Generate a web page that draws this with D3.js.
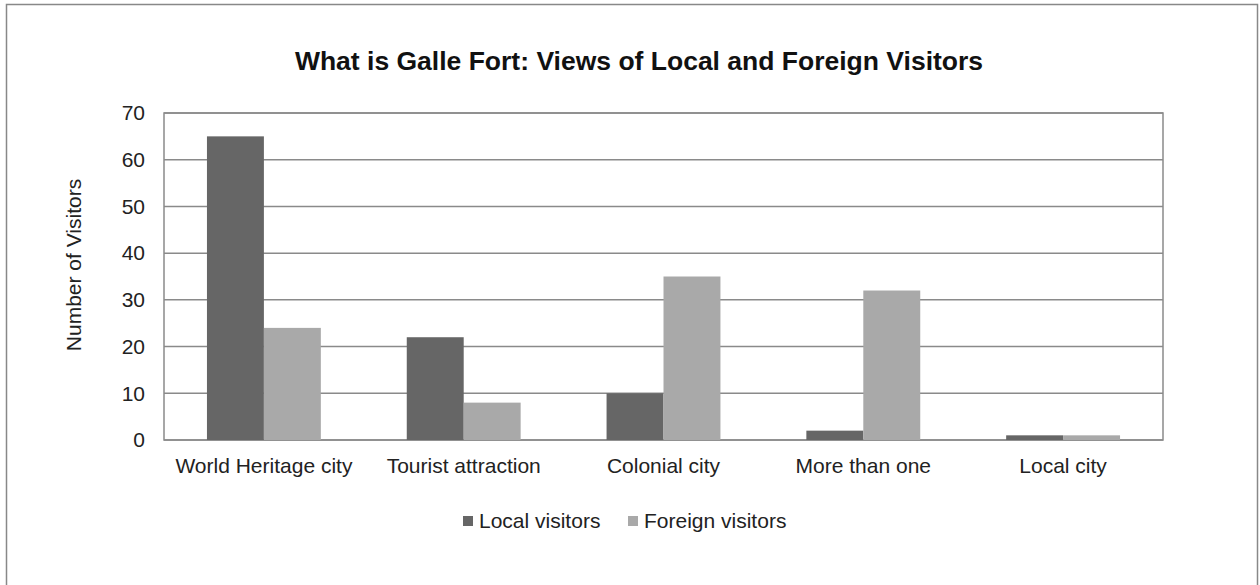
<!DOCTYPE html>
<html>
<head>
<meta charset="utf-8">
<script src="https://cdn.jsdelivr.net/npm/d3@7"></script>
<style>
  body { margin: 0; background: #fff; }
  svg { font-family: "Liberation Sans", Arial, sans-serif; }
</style>
</head>
<body>
<svg id="chart" width="1260" height="585"></svg>
<script>
// data
const categories = ['World Heritage city', 'Tourist attraction', 'Colonial city', 'More than one', 'Local city']
const seriesNames = ['Local visitors', 'Foreign visitors']
const localVisitors = [65, 22, 10, 2, 1]
const foreignVisitors = [24, 8, 35, 32, 1]
const yTicks = [0, 10, 20, 30, 40, 50, 60, 70]

const colors = ['#666666', '#a9a9a9']
const svg = d3.select('#chart')

// outer frame
svg.append('rect')
    .attr('x', 6.5).attr('y', 4.5)
    .attr('width', 1251).attr('height', 600)
    .attr('fill', '#fff').attr('stroke', '#888').attr('stroke-width', 1.5)

const plot = {left: 164, right: 1163, top: 113, bottom: 440}

const x = d3.scaleBand()
    .domain(categories)
    .range([plot.left, plot.right])
    .paddingInner(0.43)
    .paddingOuter(0.215)
const xSub = d3.scaleBand().domain(seriesNames).range([0, x.bandwidth()])
const y = d3.scaleLinear().domain([0, 70]).range([plot.bottom, plot.top])

// gridlines
svg.append('g')
    .selectAll('line')
    .data(yTicks)
    .join('line')
    .attr('x1', plot.left).attr('x2', plot.right)
    .attr('y1', d => y(d)).attr('y2', d => y(d))
    .attr('stroke', '#8a8a8a').attr('stroke-width', 1.5)

// plot area border
svg.append('rect')
    .attr('x', plot.left).attr('y', plot.top)
    .attr('width', plot.right - plot.left).attr('height', plot.bottom - plot.top)
    .attr('fill', 'none').attr('stroke', '#8a8a8a').attr('stroke-width', 1.5)

// bars
const rows = categories.map((c, i) => ({cat: c, vals: [localVisitors[i], foreignVisitors[i]]}))
const groups = svg.append('g')
    .selectAll('g')
    .data(rows)
    .join('g')
    .attr('transform', d => `translate(${x(d.cat)},0)`)
groups.selectAll('rect')
    .data(d => d.vals.map((v, j) => ({name: seriesNames[j], v: v, j: j})))
    .join('rect')
    .attr('x', d => xSub(d.name))
    .attr('y', d => y(d.v))
    .attr('width', xSub.bandwidth())
    .attr('height', d => y(0) - y(d.v))
    .attr('fill', d => colors[d.j])

const labelFont = '"Liberation Sans", Arial, sans-serif'

// y axis labels
const yAxis = d3.axisLeft(y).tickValues(yTicks).tickSize(0).tickPadding(19)
svg.append('g')
    .attr('transform', `translate(${plot.left},0)`)
    .call(yAxis)
    .call(g => g.select('.domain').remove())
    .selectAll('text')
    .attr('font-size', 21).attr('fill', '#222')
    .style('font-family', labelFont)

// x axis labels
const xAxis = d3.axisBottom(x).tickSize(0).tickPadding(18)
svg.append('g')
    .attr('transform', `translate(0,${plot.bottom})`)
    .call(xAxis)
    .call(g => g.select('.domain').remove())
    .selectAll('text')
    .attr('font-size', 21).attr('fill', '#222')
    .style('font-family', labelFont)

// title
svg.append('text')
    .attr('x', 639).attr('y', 70)
    .attr('text-anchor', 'middle')
    .attr('font-size', 26.5).attr('font-weight', 'bold').attr('fill', '#111')
    .text('What is Galle Fort: Views of Local and Foreign Visitors')

// y axis title
svg.append('text')
    .attr('transform', 'translate(81,265) rotate(-90)')
    .attr('text-anchor', 'middle')
    .attr('font-size', 21).attr('fill', '#222')
    .text('Number of Visitors')

// legend
const legend = svg.append('g')
const legendX = [463, 628]
seriesNames.forEach((name, i) => {
    legend.append('rect')
        .attr('x', legendX[i]).attr('y', 516)
        .attr('width', 10).attr('height', 10)
        .attr('fill', colors[i])
    legend.append('text')
        .attr('x', legendX[i] + 16).attr('y', 528)
        .attr('font-size', 21).attr('fill', '#222')
        .text(name)
})
</script>
</body>
</html>
